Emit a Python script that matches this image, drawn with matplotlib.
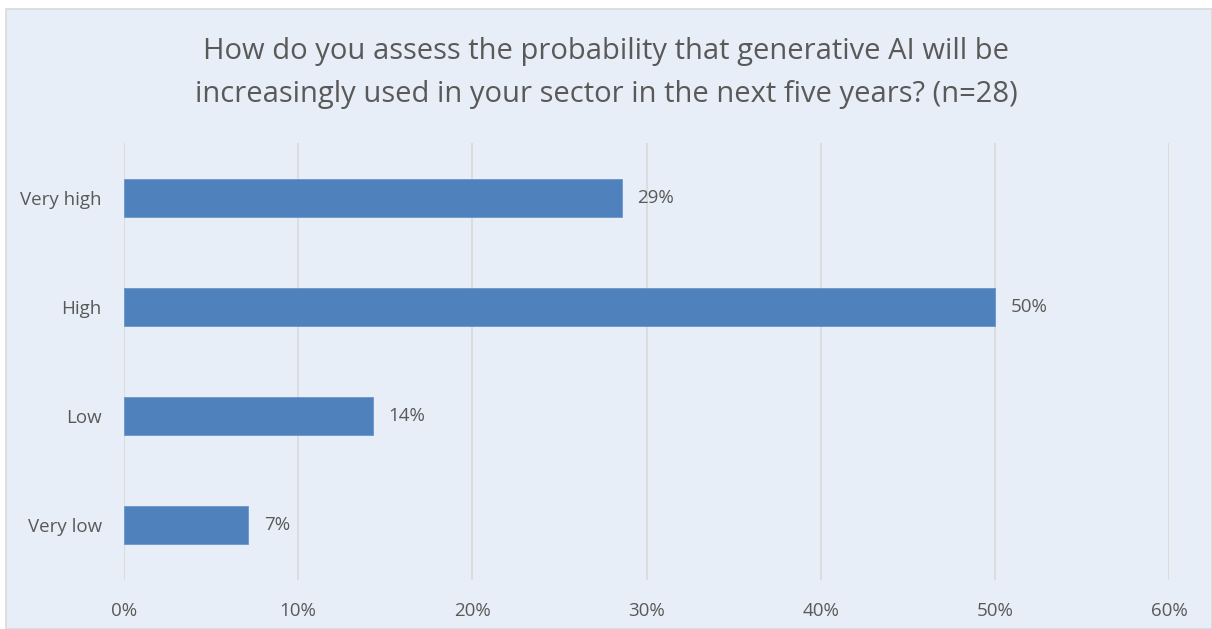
import matplotlib.pyplot as plt
from matplotlib.patches import Rectangle
from matplotlib.ticker import PercentFormatter

categories = ['Very high', 'High', 'Low', 'Very low']
shares = [28.57, 50.0, 14.29, 7.14]
value_labels = ['29%', '50%', '14%', '7%']
title = 'How do you assess the probability that generative AI will be\nincreasingly used in your sector in the next five years? (n=28)'

plt.rcParams['font.family'] = ['Open Sans', 'DejaVu Sans']
bg = '#E8EEF7'
text_col = '#595959'

fig = plt.figure(figsize=(12.12, 6.29), dpi=100)
fig.patch.set_facecolor('white')
fig.patches.append(Rectangle((6 / 1212, 0), 1 - 6 / 1212, 1 - 9 / 629, transform=fig.transFigure,
                             facecolor=bg, edgecolor='#D9D9D9', linewidth=1.2, zorder=-5))

ax = fig.add_axes([124 / 1212, 1 - 580 / 629, (1169 - 124) / 1212, (580 - 143) / 629])
ax.set_facecolor(bg)
ax.patch.set_alpha(0)

y = list(range(len(categories)))
ax.barh(y, shares, height=0.35, color='#4F81BD', edgecolor='#6A95CB', linewidth=0.6, zorder=3)
for i in range(len(categories)):
    ax.text(shares[i] + 0.9, y[i], value_labels[i], va='center', ha='left', fontsize=13.5, color=text_col, zorder=4)

ax.set_xlim(0, 60)
ax.set_ylim(3.5, -0.5)
ax.set_xticks(range(0, 61, 10))
ax.xaxis.set_major_formatter(PercentFormatter(decimals=0))
ax.set_yticks(y)
ax.set_yticklabels(categories)
ax.tick_params(axis='both', length=0, labelsize=13.5, colors=text_col)
ax.tick_params(axis='x', pad=16)
ax.tick_params(axis='y', pad=16)
ax.grid(axis='x', color='#D9D9D9', linewidth=1.2, zorder=0)
for s in ax.spines.values():
    s.set_visible(False)

fig.text(0.5, 1 - 73 / 629, title, ha='center', va='center', fontsize=21, color=text_col, linespacing=1.6)

plt.savefig('out.png', dpi=100, facecolor=fig.get_facecolor())
